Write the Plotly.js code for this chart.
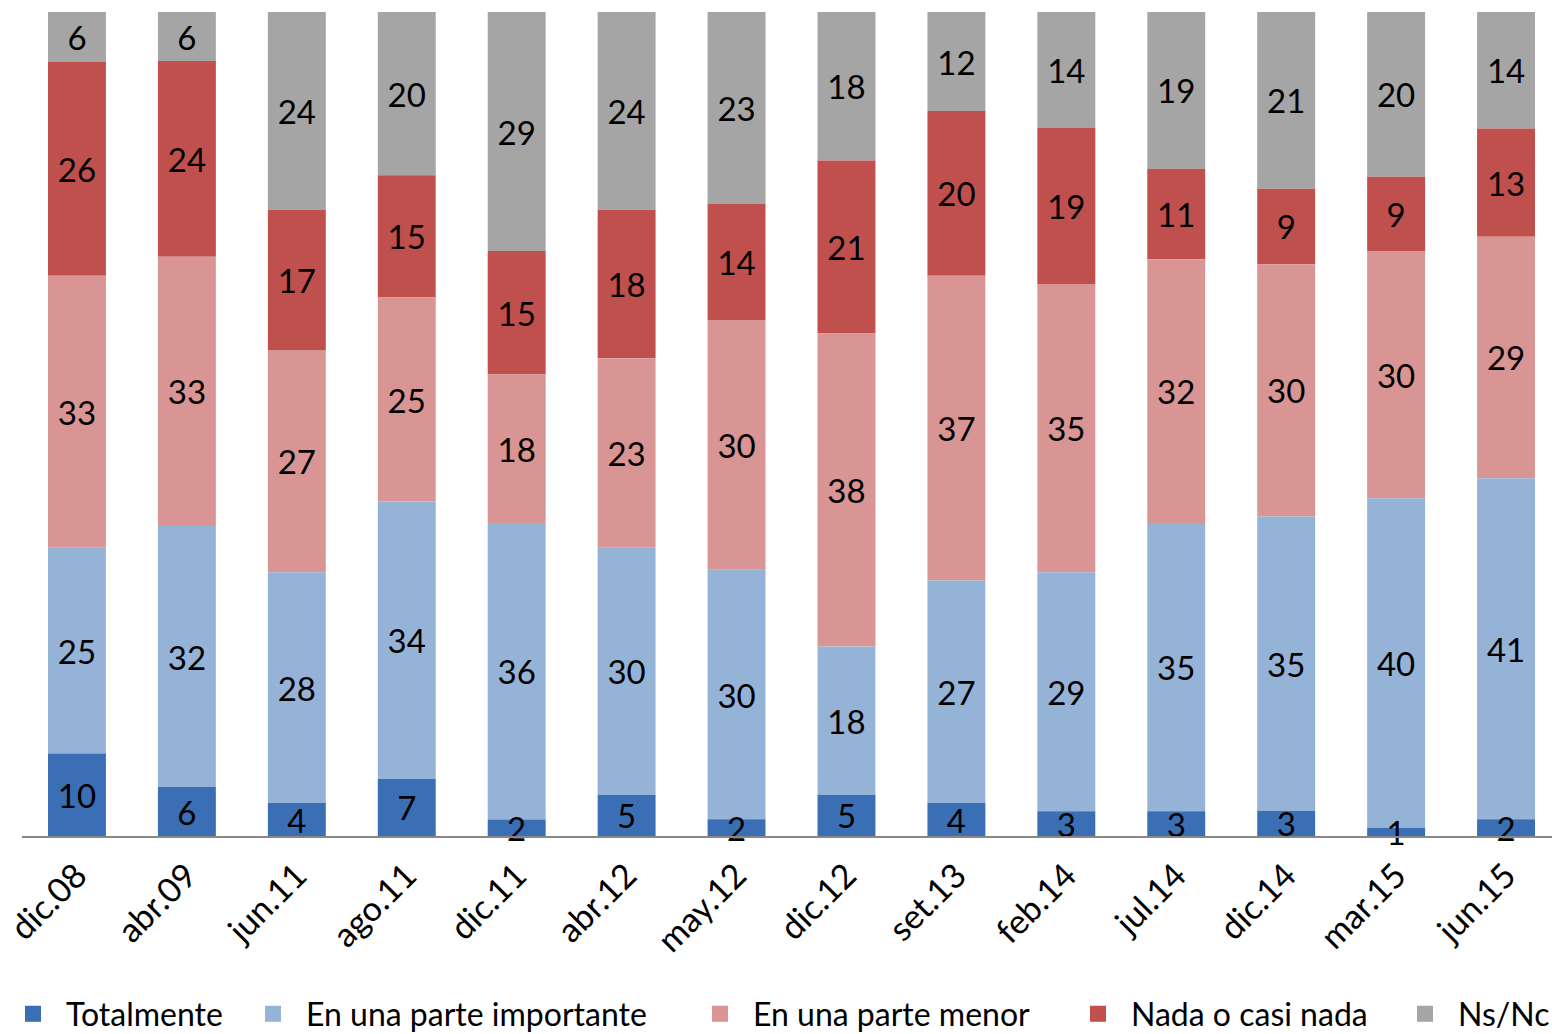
<!DOCTYPE html>
<html>
<head>
<meta charset="utf-8">
<script src="https://cdn.plot.ly/plotly-3.0.1.min.js"></script>
<style>
html, body { margin: 0; padding: 0; background: #fff; overflow: hidden; }
#chart { width: 1552px; height: 1034px; }
</style>
</head>
<body>
<div id="chart"></div>
<script>
const categories = ["dic.08","abr.09","jun.11","ago.11","dic.11","abr.12","may.12","dic.12","set.13","feb.14","jul.14","dic.14","mar.15","jun.15"];
const totalmente = [10,6,4,7,2,5,2,5,4,3,3,3,1,2];
const importante = [25,32,28,34,36,30,30,18,27,29,35,35,40,41];
const menor = [33,33,27,25,18,23,30,38,37,35,32,30,30,29];
const nada = [26,24,17,15,15,18,14,21,20,19,11,9,9,13];
const nsnc = [6,6,24,20,29,24,23,18,12,14,19,21,20,14];

const seriesNames = ["Totalmente","En una parte importante","En una parte menor","Nada o casi nada","Ns/Nc"];
const seriesValues = [totalmente, importante, menor, nada, nsnc];
const seriesColors = ["#3a6fb5","#95b3d7","#d99594","#c0504d","#a5a5a5"];
const legendTextX = [63, 310, 757, 1135, 1462];

const FONT = "Lato, 'Open Sans', sans-serif";
const W = 1552, H = 1034;

// 100 % stacked bars: each segment's share and base are derived from the data arrays
const totals = categories.map((_, j) => seriesValues.reduce((s, arr) => s + arr[j], 0));
const cum = categories.map(() => 0);
const barTraces = seriesValues.map((vals, i) => {
  const base = vals.map((v, j) => cum[j] / totals[j] * 100);
  const share = vals.map((v, j) => v / totals[j] * 100);
  vals.forEach((v, j) => { cum[j] += v; });
  return {
    type: "bar",
    name: seriesNames[i],
    x: categories,
    y: share,
    base: base,
    text: vals.map(String),
    texttemplate: "%{text}",
    textposition: "inside",
    insidetextanchor: "middle",
    constraintext: "none",
    textangle: 0,
    cliponaxis: false,
    insidetextfont: { family: FONT, size: 33, color: "#000" },
    marker: { color: seriesColors[i], line: { width: 0 } },
    showlegend: false,
    hoverinfo: "x+name+text"
  };
});
// draw top series first so that the bottom labels stay on top of neighbouring bars
barTraces.reverse();

// Legend entries (one legend box per entry, placed like the original)
const legendTraces = seriesNames.map((name, i) => ({
  type: "scatter",
  mode: "markers",
  name: name,
  x: [categories[0]],
  y: [null],
  marker: { symbol: "square", size: 16, color: seriesColors[i], line: { width: 0 } },
  legend: i === 0 ? "legend" : "legend" + (i + 1),
  showlegend: true,
  hoverinfo: "skip"
}));

const layout = {
  width: W,
  height: H,
  margin: { l: 22, r: 0, t: 12, b: 198, autoexpand: false },
  paper_bgcolor: "#fff",
  plot_bgcolor: "#fff",
  barmode: "overlay",
  bargap: 0.473,
  font: { family: FONT, size: 33, color: "#000" },
  xaxis: {
    type: "category",
    categoryarray: categories,
    range: [-0.5, 13.418],
    showline: true,
    linecolor: "#878787",
    linewidth: 2,
    ticks: "",
    showgrid: false,
    zeroline: false,
    tickangle: -45,
    ticklabelstandoff: 4,
    tickfont: { family: FONT, size: 34, color: "#000" },
    fixedrange: true
  },
  yaxis: {
    range: [0, 100.01],
    visible: false,
    showgrid: false,
    zeroline: false,
    fixedrange: true
  },
  showlegend: true
};

legendTextX.forEach((tx, i) => {
  const key = i === 0 ? "legend" : "legend" + (i + 1);
  layout[key] = {
    orientation: "h",
    xref: "container",
    yref: "container",
    x: (tx - 70) / W,
    xanchor: "left",
    y: 1 - 1014 / H,
    yanchor: "middle",
    itemwidth: 56,
    bgcolor: "rgba(0,0,0,0)",
    borderwidth: 0,
    font: { family: FONT, size: 32, color: "#000" }
  };
});

Plotly.newPlot("chart", [...barTraces, ...legendTraces], layout, { displayModeBar: false, staticPlot: true });
</script>
</body>
</html>
